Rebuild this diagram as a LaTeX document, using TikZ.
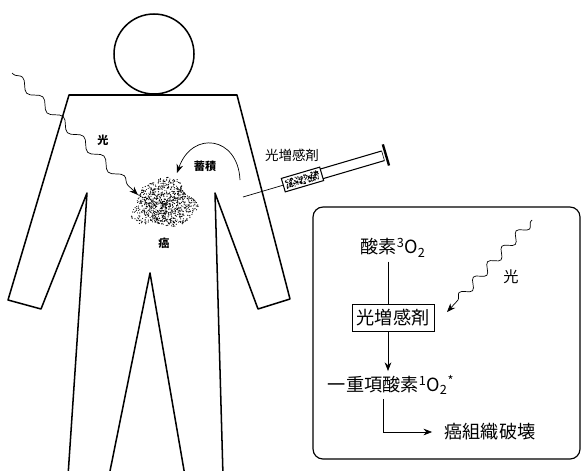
\documentclass[tikz,border=0pt]{standalone}
\usepackage{fontspec}
\setmainfont{Noto Sans CJK JP}
\usetikzlibrary{arrows.meta, decorations.pathmorphing}

\tikzset{
  outline/.style={line width=1.3pt, line join=round},
  flow/.style={line width=0.6pt},
  tipped/.style={-{Stealth[length=2.6mm, width=2mm]}},
  lightwave/.style={decorate, line width=0.6pt,
    decoration={snake, segment length=#1, amplitude=1.3mm, pre length=0.5mm, post length=2.5mm}},
  lightwave/.default=6mm,
  txtsmall/.style={font=\fontsize{9.5}{11}\selectfont\bfseries},
  txtmid/.style={font=\fontsize{11.5}{13}\selectfont},
  txtbig/.style={font=\fontsize{15.5}{18}\selectfont},
}

\begin{document}
\begin{tikzpicture}[x=0.03cm, y=-0.03cm]
                \useasboundingbox (0,0) rectangle (582,470);
                % figure
                \draw[outline] (154,54) circle[radius=40];
                \draw[outline] (223,476) -- (215,193) -- (258,309) -- (290,299) -- (237,95)
                  -- (69,95) -- (8,300) -- (41,309) -- (87,193) -- (68,476);
                \draw[outline] (109,476) -- (150,273) -- (185,476);
                % tumour
                \pgfmathsetseed{11}
                \foreach \i in {1,...,950}{
                  \pgfmathsetmacro\ang{360*rnd}
                  \pgfmathsetmacro\rad{(rnd)^0.6*(1+0.12*sin(3*\ang)+0.08*cos(5*\ang))}
                  \fill ({164+31*\rad*cos(\ang)}, {204+24*\rad*sin(\ang)}) circle[radius=0.5pt];
                }
                \node[txtsmall] (cancer) at (164,243) {癌};
                % light into the body
                \coordinate (src1) at (12,73);
                \coordinate (tgt1) at (138,195);
                \draw[lightwave=8.5mm, tipped] (src1) -- (tgt1);
                \node[txtsmall] (light1) at (103,140) {光};
                % accumulation
                \coordinate (acc0) at (240,180);
                \coordinate (acc1) at (177,173);
                \draw[flow, tipped] (acc0) .. controls (238,136) and (192,130) .. (acc1);
                \node[txtsmall] (accum) at (205,166) {蓄積};
                % syringe
                \begin{scope}[shift={(243,197)}, rotate=16.4]
                  \coordinate (needle) at (0,0);
                  \coordinate (hub) at (42,0);
                  \draw[flow] (needle) -- (hub);
                  \draw[line width=0.9pt] (42,-7) rectangle (82,7);
                  \foreach \i in {1,...,200}{
                    \fill ({45+34*rnd}, {-4.5+9*rnd}) circle[radius=0.55pt];
                  }
                  \draw[line width=0.9pt] (82,-5) -- (146,-5) (82,5) -- (146,5);
                  \draw[line width=0.5pt] (146,-5) -- (146,5);
                  \draw[line width=2pt] (149,-11) -- (149,11);
                \end{scope}
                \node[txtmid] (drug) at (292,155) {光増感剤};
                % reaction frame
                \draw[line width=1pt, rounded corners=3mm] (313,207) rectangle (580,459);
                \coordinate (spine) at (388,0);
                \coordinate (branch) at (383,0);
                \node[txtbig] (o3) at (393,248) {酸素\textsuperscript{3}O\textsubscript{2}};
                \node[txtbig, draw, line width=0.8pt, inner sep=4pt] (sens) at (393,318) {光増感剤};
                \node[txtbig] (o1) at (391,385) {一重項酸素\textsuperscript{1}O\textsubscript{2}\textsuperscript{*}};
                \node[txtbig] (dest) at (490,432) {癌組織破壊};
                \draw[flow] (o3.south -| spine) -- (sens.north -| spine);
                \draw[flow, tipped] (sens.south -| spine) -- (o1.north -| spine);
                \draw[flow, tipped, shorten >=2.5mm] (o1.south -| branch) |- (dest.west);
                % light onto the sensitiser
                \coordinate (src2) at (532,220);
                \coordinate (tgt2) at (447,312);
                \draw[lightwave=6.3mm, tipped] (src2) -- (tgt2);
                \node[font=\fontsize{13}{15}\selectfont] (light2) at (511,277) {光};
            \end{tikzpicture}
\end{document}
